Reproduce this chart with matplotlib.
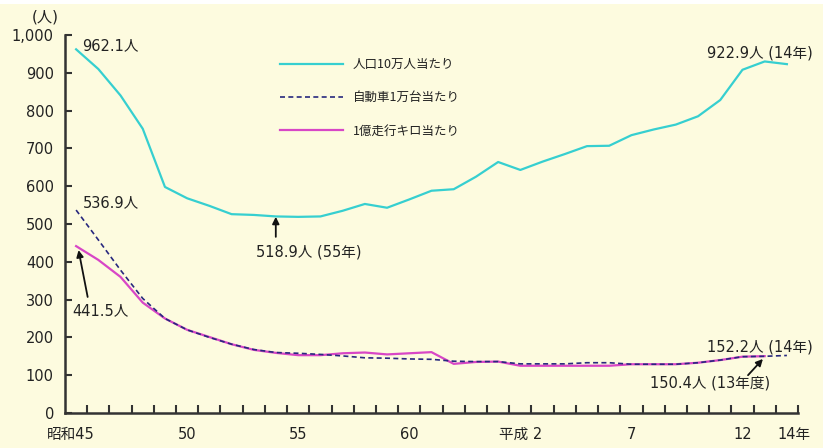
import matplotlib
matplotlib.use("Agg")
import matplotlib.pyplot as plt
from matplotlib.ticker import FuncFormatter, FixedLocator
from matplotlib.patches import Rectangle

plt.rcParams['font.family'] = ['DejaVu Sans', 'Noto Sans CJK JP']

# ---- data (昭和45年 = index 0 ... 平成14年 = index 32) ----
years_idx = list(range(33))
per_population = [962.1, 910, 840, 752, 598, 568, 548, 526, 524, 520, 518.9,
                  520, 535, 553, 543, 565, 588, 592, 625, 664, 643, 665, 685,
                  706, 707, 735, 750, 763, 785, 828, 908, 930, 922.9]
per_vehicles = [536.9, 458, 378, 303, 250, 220, 200, 182, 168, 160, 158,
                155, 151, 146, 145, 143, 142, 137, 136, 136, 130, 130, 130,
                133, 133, 129, 129, 129, 133, 140, 149, 150, 152.2]
per_km = [441.5, 405, 360, 292, 250, 220, 201, 182, 167, 159, 153,
          153, 158, 160, 155, 158, 161, 130, 135, 136, 125, 125, 125,
          125, 125, 129, 129, 129, 133, 140, 149, 150.4]
series_labels = ['人口10万人当たり', '自動車1万台当たり', '1億走行キロ当たり']
xtick_pos = [-0.25, 5, 10, 15, 20, 25, 30, 32.3]
xtick_labels = ['昭和45', '50', '55', '60', '平成 2', '7', '12', '14年']
yticks = [0, 100, 200, 300, 400, 500, 600, 700, 800, 900, 1000]

W, H = 823, 448
bg = '#fdfbdf'
fig = plt.figure(figsize=(W / 100, H / 100), dpi=100, facecolor=bg)
fig.patches.append(Rectangle((0, 1 - 4 / H), 1, 4 / H, transform=fig.transFigure,
                             facecolor='white', edgecolor='none', zorder=0))

ax = fig.add_axes([65 / W, 1 - 413 / H, (798 - 65) / W, (413 - 35) / H])
ax.set_facecolor(bg)
ax.set_xlim(-0.5, 32.5)
ax.set_ylim(0, 1000)

ax.plot(years_idx, per_population, color='#36cfd0', lw=1.6, label=series_labels[0], zorder=3)
ax.plot(years_idx, per_vehicles, color='#28287e', lw=1.2, ls=(0, (3, 2)), label=series_labels[1], zorder=4)
ax.plot(years_idx[:len(per_km)], per_km, color='#d846c6', lw=1.6, label=series_labels[2], zorder=3)

for s in ['top', 'right']:
    ax.spines[s].set_visible(False)
for s in ['left', 'bottom']:
    ax.spines[s].set_color('#333333')
    ax.spines[s].set_linewidth(1.8)

ax.set_yticks(yticks)
ax.yaxis.set_major_formatter(FuncFormatter(lambda v, p: f'{int(v):,}'))
ax.tick_params(axis='y', direction='in', length=5, width=1.5, color='#333333',
               labelsize=10.5, pad=8, labelcolor='#222222')

ax.xaxis.set_major_locator(FixedLocator(xtick_pos))
ax.set_xticklabels(xtick_labels)
ax.xaxis.set_minor_locator(FixedLocator([k + 0.5 for k in range(33)]))
ax.tick_params(axis='x', which='major', length=0, labelsize=10.5, pad=10, labelcolor='#222222')
ax.tick_params(axis='x', which='minor', direction='in', length=6, width=1.5, color='#333333')

fs = 10.5
arrow_kw = dict(arrowstyle='-|>', color='#111111', lw=1.3, shrinkA=0, shrinkB=0,
                mutation_scale=10)
fig.text(45 / W, 1 - 17 / H, '(人)', fontsize=11, ha='center', va='center', color='#222222')
ax.text(0.29, 973, '962.1人', fontsize=fs, ha='left', va='center', color='#222222')
ax.text(0.29, 556, '536.9人', fontsize=fs, ha='left', va='center', color='#222222')
ax.text(-0.16, 272, '441.5人', fontsize=fs, ha='left', va='center', color='#222222')
ax.annotate('', xy=(0.11, 431), xytext=(0.52, 307), arrowprops=arrow_kw)
ax.annotate('', xy=(8.99, 519), xytext=(8.99, 466), arrowprops=arrow_kw)
ax.text(10.47, 426, '518.9人 (55年)', fontsize=fs, ha='center', va='center', color='#222222')
ax.text(28.4, 952, '922.9人 (14年)', fontsize=fs, ha='left', va='center', color='#222222')
ax.text(28.4, 175, '152.2人 (14年)', fontsize=fs, ha='left', va='center', color='#222222')
ax.annotate('', xy=(30.92, 143), xytext=(30.25, 100), arrowprops=arrow_kw)
ax.text(25.83, 79, '150.4人 (13年度)', fontsize=fs, ha='left', va='center', color='#222222')

leg = ax.legend(loc='upper left', bbox_to_anchor=(280 / W, 1 - 58 / H),
                bbox_transform=fig.transFigure, frameon=False, fontsize=9,
                handlelength=5.0, handletextpad=0.8, labelspacing=1.62,
                borderpad=0, borderaxespad=0)
for t in leg.get_texts():
    t.set_family(['Noto Sans CJK JP', 'DejaVu Sans'])
    t.set_color('#222222')

fig.savefig('out.png', dpi=100, facecolor=bg)
